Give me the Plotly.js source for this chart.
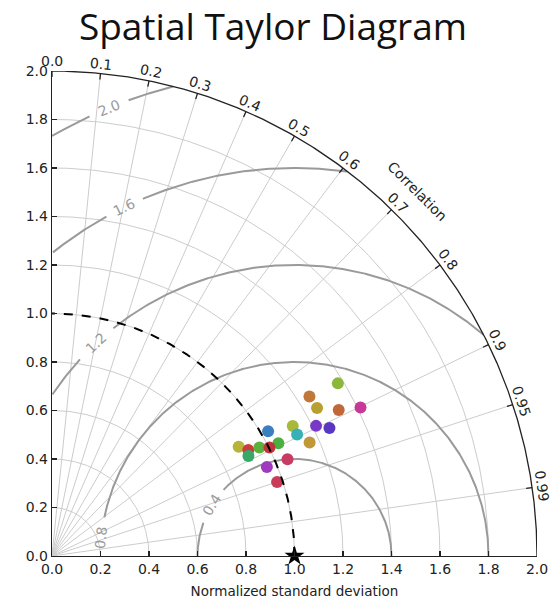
<!DOCTYPE html>
<html>
<head>
<meta charset="utf-8">
<script src="https://cdn.plot.ly/plotly-3.0.1.min.js"></script>
<style>html,body{margin:0;padding:0;background:#fff;}#chart{width:557px;height:600px;}</style>
</head>
<body>
<div id="chart"></div>
<script>
// ---- data ----
const modelStd  = [1.377, 1.249, 1.252, 1.327, 1.412, 1.214, 1.260, 1.128, 1.128, 1.161,
                   1.029, 0.892, 0.920, 0.965, 1.043, 1.002, 0.909, 1.050, 0.959, 0.977];
const modelCorr = [0.856, 0.850, 0.873, 0.891, 0.901, 0.897, 0.908, 0.880, 0.896, 0.915,
                   0.866, 0.863, 0.880, 0.886, 0.895, 0.895, 0.891, 0.925, 0.924, 0.950];
const modelColors = ['#8cb83a', '#c07838', '#b8a030', '#c06838', '#c83898', '#7838c8', '#5838c0', '#a8b83a', '#38b0b8', '#c09838',
                     '#3a80c0', '#b7b43a', '#cc3c3c', '#5cb03c', '#4cb040', '#c0343c', '#38a868', '#c83c64', '#a038c0', '#c83c58'];
const drawOrder = [0, 1, 2, 3, 4, 5, 6, 7, 8, 9, 10, 11, 12, 16, 13, 14, 15, 17, 18, 19];
const refStd = 1.0;
const corrTicks = [0.0, 0.1, 0.2, 0.3, 0.4, 0.5, 0.6, 0.7, 0.8, 0.9, 0.95, 0.99];
const corrTickLabels = ['0.0', '0.1', '0.2', '0.3', '0.4', '0.5', '0.6', '0.7', '0.8', '0.9', '0.95', '0.99'];
const stdGrid = [0.2, 0.4, 0.6, 0.8, 1.0, 1.2, 1.4, 1.6, 1.8];
const rmsLevels = [0.4, 0.8, 1.2, 1.6, 2.0];
const rmsLabels = ['0.4', '0.8', '1.2', '1.6', '2.0'];
const axisTicks = [0.0, 0.2, 0.4, 0.6, 0.8, 1.0, 1.2, 1.4, 1.6, 1.8, 2.0];
const axisTickLabels = ['0.0', '0.2', '0.4', '0.6', '0.8', '1.0', '1.2', '1.4', '1.6', '1.8', '2.0'];

// ---- style / geometry config ----
const RMAX = 2.0;
const XR = [0, 2], YR = [0, 2];
const rmsLabelAngle = [148.5, 174.5, 133, 116, 112.5]; // deg, about reference point
const rmsGapHalf = [11.5, 6, 4.4, 2.8, 2.3];
const FONT = 'DejaVu Sans, sans-serif';
const rad = d => d * Math.PI / 180;
const px = x => (x - XR[0]) / (XR[1] - XR[0]);
const py = y => (y - YR[0]) / (YR[1] - YR[0]);

const traces = [];
function line(xs, ys, color, width, dash) {
  traces.push({x: xs, y: ys, mode: 'lines', line: {color: color, width: width, dash: dash || 'solid'},
               hoverinfo: 'skip', showlegend: false, cliponaxis: false});
}

// std grid arcs
stdGrid.forEach(r => {
  const xs = [], ys = [];
  for (let a = 0; a <= 90; a += 0.5) { xs.push(r * Math.cos(rad(a))); ys.push(r * Math.sin(rad(a))); }
  line(xs, ys, '#cccccc', 1);
});
// correlation radial lines
corrTicks.forEach(c => {
  if (c === 0) return;
  const t = Math.acos(c);
  line([0, RMAX * Math.cos(t)], [0, RMAX * Math.sin(t)], '#cccccc', 1);
});
// RMS contours
rmsLevels.forEach((r, i) => {
  const g0 = rmsLabelAngle[i] - rmsGapHalf[i], g1 = rmsLabelAngle[i] + rmsGapHalf[i];
  let xs = [], ys = [];
  const flush = () => { if (xs.length > 1) line(xs, ys, '#9a9a9a', 2); xs = []; ys = []; };
  for (let p = 0; p <= 180; p += 0.25) {
    const x = refStd + r * Math.cos(rad(p)), y = r * Math.sin(rad(p));
    const inside = x >= -1e-9 && y >= -1e-9 && (x * x + y * y) <= RMAX * RMAX + 1e-9 && !(p > g0 && p < g1);
    if (inside) { xs.push(x); ys.push(y); } else flush();
  }
  flush();
});
// outer boundary arc
(function () {
  const xs = [], ys = [];
  for (let a = 0; a <= 90; a += 0.25) { xs.push(RMAX * Math.cos(rad(a))); ys.push(RMAX * Math.sin(rad(a))); }
  line(xs, ys, '#222222', 1.3);
})();
// ticks on outer arc
corrTicks.forEach(c => {
  const t = Math.acos(c);
  line([RMAX * Math.cos(t), (RMAX - 0.025) * Math.cos(t)], [RMAX * Math.sin(t), (RMAX - 0.025) * Math.sin(t)], '#222222', 1.3);
});
// model points
drawOrder.forEach(i => {
  const t = Math.acos(modelCorr[i]);
  traces.push({x: [modelStd[i] * Math.cos(t)], y: [modelStd[i] * Math.sin(t)], mode: 'markers',
               marker: {color: modelColors[i], size: 12, line: {width: 0}}, showlegend: false, cliponaxis: false});
});
// reference std arc (dashed)
(function () {
  const xs = [], ys = [];
  for (let a = 0; a <= 90; a += 0.25) { xs.push(refStd * Math.cos(rad(a))); ys.push(refStd * Math.sin(rad(a))); }
  line(xs, ys, '#000000', 2, 'dash');
})();
// reference star
traces.push({x: [refStd], y: [0], mode: 'markers', marker: {symbol: 'star', color: '#000', size: 15},
             showlegend: false, cliponaxis: false});

// annotations (paper coords so labels outside the axis ranges still show)
const annotations = [];
corrTicks.forEach((c, i) => {
  const t = Math.acos(c);
  const rr = 2.04;
  annotations.push({x: px(rr * Math.cos(t)), y: py(rr * Math.sin(t)), xref: 'paper', yref: 'paper', text: corrTickLabels[i],
    showarrow: false, textangle: 90 - t * 180 / Math.PI, font: {family: FONT, size: 14, color: '#222'},
    xanchor: 'center', yanchor: 'middle'});
});
annotations.push({x: px(2.13 * Math.cos(rad(45))), y: py(2.13 * Math.sin(rad(45))), xref: 'paper', yref: 'paper', text: 'Correlation',
  showarrow: false, textangle: 45, font: {family: FONT, size: 14, color: '#222'}, xanchor: 'center', yanchor: 'middle'});
rmsLevels.forEach((r, i) => {
  const p = rad(rmsLabelAngle[i]);
  annotations.push({x: px(refStd + r * Math.cos(p)), y: py(r * Math.sin(p)), xref: 'paper', yref: 'paper', text: rmsLabels[i],
    showarrow: false, textangle: -(rmsLabelAngle[i] - 90), font: {family: FONT, size: 14, color: '#9a9a9a'},
    xanchor: 'center', yanchor: 'middle'});
});

const axisCommon = {
  autorange: false, showgrid: false, zeroline: false, showline: true, linecolor: '#222', linewidth: 1.3,
  ticks: 'inside', ticklen: 5, tickcolor: '#222', tickwidth: 1.3, tickvals: axisTicks, ticktext: axisTickLabels,
  tickfont: {family: FONT, size: 14, color: '#222'}, fixedrange: true
};
const layout = {
  width: 557, height: 600,
  margin: {l: 52, r: 20, t: 71, b: 44, pad: 0},
  paper_bgcolor: '#fff', plot_bgcolor: '#fff',
  title: {text: 'Spatial Taylor Diagram', font: {family: 'Open Sans, sans-serif', size: 37, color: '#111'},
          x: 0.49, xref: 'container', xanchor: 'center', y: 0.955, yref: 'container', yanchor: 'middle'},
  xaxis: Object.assign({}, axisCommon, {range: XR, title: {text: 'Normalized standard deviation', font: {family: FONT, size: 13.5, color: '#222'}, standoff: 10}}),
  yaxis: Object.assign({}, axisCommon, {range: YR}),
  annotations: annotations,
  showlegend: false
};
Plotly.newPlot('chart', traces, layout, {staticPlot: true, displayModeBar: false});
</script>
</body>
</html>
